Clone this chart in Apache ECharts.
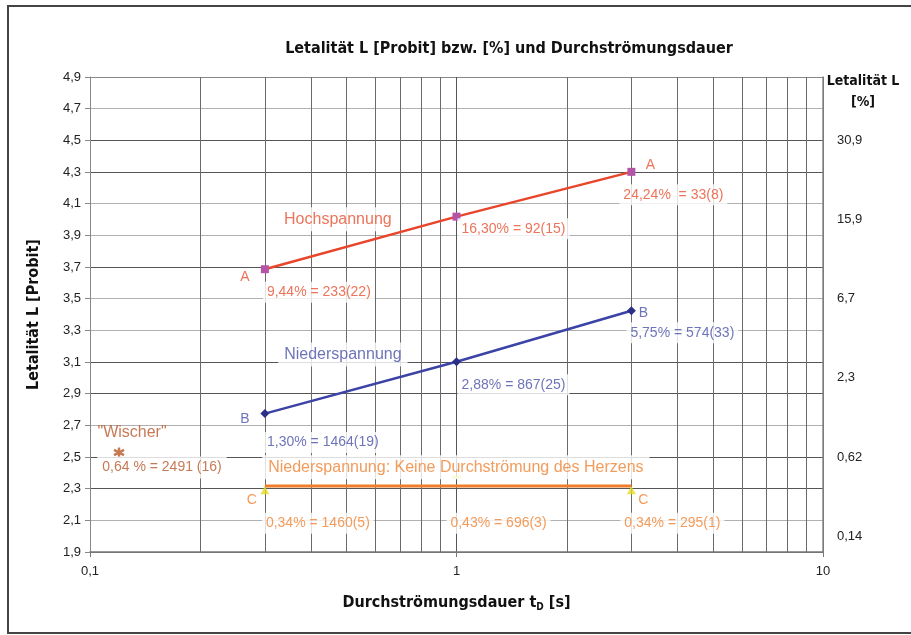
<!DOCTYPE html>
<html>
<head>
<meta charset="utf-8">
<script src="https://cdn.jsdelivr.net/npm/echarts@6/dist/echarts.min.js"></script>
<style>
  html, body { margin: 0; padding: 0; background: #fff; }
  #chart { width: 911px; height: 635px; }
</style>
</head>
<body>
<div id="chart"></div>
<script>
var chartDom = document.getElementById('chart');
var myChart = echarts.init(chartDom);

// Achsen
var yTicks = [1.9, 2.1, 2.3, 2.5, 2.7, 2.9, 3.1, 3.3, 3.5, 3.7, 3.9, 4.1, 4.3, 4.5, 4.7, 4.9];
var xMinorTicks = [0.2, 0.3, 0.4, 0.5, 0.6, 0.7, 0.8, 0.9, 2, 3, 4, 5, 6, 7, 8, 9];
var rightTickProbit = [2.0, 2.5, 3.0, 3.5, 4.0, 4.5];
var rightTickLabels = ['0,14', '0,62', '2,3', '6,7', '15,9', '30,9'];

// Durchströmungsdauer [s]
var duration = [0.3, 1, 3];

// Hochspannung (A)
var hochProbit = [3.686, 4.018, 4.301];
var hochLabels = ['9,44% = 233(22)', '16,30% = 92(15)', '24,24%  = 33(8)'];
var hochLetters = ['A', null, 'A'];

// Niederspannung (B)
var niederProbit = [2.774, 3.102, 3.424];
var niederLabels = ['1,30% = 1464(19)', '2,88% = 867(25)', '5,75% = 574(33)'];
var niederLetters = ['B', null, 'B'];

// Niederspannung ohne Herzdurchströmung (C)
var herzProbit = [2.29, 2.372, 2.29];
var herzLine = [2.317, 2.317, 2.317];
var herzLabels = ['0,34% = 1460(5)', '0,43% = 696(3)', '0,34% = 295(1)'];
var herzLetters = ['C', null, 'C'];

// "Wischer"
var wischerX = [0.12];
var wischerProbit = [2.51];
var wischerLabels = ['0,64 % = 2491 (16)'];
var wischerNames = ['"Wischer"'];

var narrowFont = "'Liberation Sans Narrow', 'DejaVu Sans Condensed', sans-serif";
var regularFont = "'Liberation Sans', Arial, sans-serif";

function comma(v) {
    return String(v).replace('.', ',');
}

function pairs(xs, ys) {
    return xs.map(function (x, i) { return [x, ys[i]]; });
}

// Beschriftungen an den Datenpunkten (unsichtbare Punkte, nur Label)
function labelSeries(xs, ys, texts, offsets, color, fontSize, pad) {
    var data = [];
    xs.forEach(function (x, i) {
        if (texts[i] == null) return;
        data.push({
            value: [x, ys[i]],
            label: { formatter: texts[i], offset: offsets[i] }
        });
    });
    return {
        type: 'scatter',
        silent: true,
        z: 6,
        symbolSize: 0,
        data: data,
        label: {
            show: true,
            position: 'inside',
            color: color,
            fontSize: fontSize,
            fontFamily: regularFont,
            backgroundColor: pad ? '#fff' : 'transparent',
            padding: pad || 0
        }
    };
}

var red = '#e9452b', redText = '#e8502f', purple = '#b455a8';
var blue = '#3b43a6', navy = '#2b2f86', blueText = '#4a51a8';
var orange = '#f07d2c', orangeText = '#f08232', yellow = '#e6dc1e';
var brown = '#b8582a';

var herzSymbols = ['triangle', 'rect', 'triangle'];
var herzSizes = [[9, 8], [9, 3], [9, 8]];

var valuePad = [4, 4, 3, 4];
var namePad = [5, 6, 3, 6];

var option = {
    animation: false,
    backgroundColor: '#fff',
    title: [{
        text: 'Letalität L [Probit] bzw. [%] und Durchströmungsdauer',
        left: 504,
        top: 36,
        textAlign: 'center',
        textStyle: { fontFamily: narrowFont, fontSize: 16, fontWeight: 'bold', color: '#111' }
    }, {
        text: 'Letalität L\n[%]',
        left: 858,
        top: 66,
        textAlign: 'center',
        textStyle: { fontFamily: narrowFont, fontSize: 14, fontWeight: 'bold', color: '#111', lineHeight: 21 }
    }],
    graphic: [{
        type: 'rect',
        shape: { x: 8, y: 6, width: 920, height: 627 },
        style: { fill: 'none', stroke: '#444', lineWidth: 2 },
        silent: true
    }],
    grid: { left: 90, right: 88, top: 77, bottom: 83 },
    xAxis: {
        type: 'log',
        logBase: 10,
        min: 0.1,
        max: 10,
        name: 'Durchströmungsdauer t{sub|D} [s]',
        nameLocation: 'middle',
        nameGap: 41,
        nameTextStyle: {
            fontFamily: narrowFont, fontSize: 16, fontWeight: 'bold', color: '#111',
            rich: { sub: { fontFamily: narrowFont, fontSize: 10, fontWeight: 'bold', color: '#111', verticalAlign: 'bottom', padding: [9, 0, 0, 0] } }
        },
        axisLine: { lineStyle: { color: '#777', width: 1.5 } },
        axisTick: { show: true, length: 5, lineStyle: { color: '#777' } },
        axisLabel: { formatter: comma, fontFamily: regularFont, fontSize: 13, color: '#222', margin: 13 },
        splitLine: { show: true, lineStyle: { color: '#555', width: 1 } }
    },
    yAxis: [{
        type: 'value',
        min: 1.9,
        max: 4.9,
        name: 'Letalität L [Probit]',
        nameLocation: 'middle',
        nameRotate: 90,
        nameGap: 48,
        nameTextStyle: { fontFamily: narrowFont, fontSize: 16, fontWeight: 'bold', color: '#111' },
        axisLine: { show: true, lineStyle: { color: '#888', width: 1 } },
        axisTick: { show: true, length: 5, customValues: yTicks, lineStyle: { color: '#888' } },
        axisLabel: { customValues: yTicks, formatter: function (v) { return comma(v.toFixed(1)); }, fontFamily: regularFont, fontSize: 13, color: '#222', margin: 9 },
        splitLine: {
            show: true,
            lineStyle: {
                width: 1,
                color: ['#777', '#b0b0b0', '#555', '#555', '#b0b0b0', '#555', '#555', '#b0b0b0',
                        '#b0b0b0', '#555', '#b0b0b0', '#b0b0b0', '#555', '#555', '#b0b0b0', '#888']
            }
        }
    }, {
        type: 'value',
        position: 'right',
        min: 1.9,
        max: 4.9,
        axisLine: { show: true, lineStyle: { color: '#888', width: 1.5 } },
        axisTick: { show: false },
        axisLabel: {
            customValues: rightTickProbit,
            formatter: function (v) {
                for (var i = 0; i < rightTickProbit.length; i++) {
                    if (Math.abs(rightTickProbit[i] - v) < 1e-6) return rightTickLabels[i];
                }
                return '';
            },
            fontFamily: regularFont, fontSize: 13, color: '#222', margin: 14
        },
        splitLine: { show: false }
    }],
    series: [
        {
            // Nebengitter der logarithmischen Achse (2..9 je Dekade)
            type: 'custom',
            z: 1,
            silent: true,
            data: xMinorTicks.map(function (v) { return [v, yTicks[0]]; }),
            encode: { x: 0, y: 1 },
            renderItem: function (params, api) {
                var cs = params.coordSys;
                var pt = api.coord([api.value(0), api.value(1)]);
                var x = Math.round(pt[0]) + 0.5;
                return {
                    type: 'line',
                    shape: { x1: x, y1: cs.y, x2: x, y2: cs.y + cs.height },
                    style: { stroke: '#6a6a6a', lineWidth: 1 }
                };
            }
        },
        {
            name: 'Hochspannung',
            type: 'line',
            z: 3,
            data: pairs(duration, hochProbit),
            lineStyle: { color: red, width: 2.5 },
            symbol: 'rect',
            symbolSize: 8,
            itemStyle: { color: purple },
            silent: true
        },
        {
            name: 'Niederspannung',
            type: 'line',
            z: 3,
            data: pairs(duration, niederProbit),
            lineStyle: { color: blue, width: 2.5 },
            symbol: 'diamond',
            symbolSize: 9,
            itemStyle: { color: navy },
            silent: true
        },
        {
            name: 'Niederspannung ohne Herz',
            type: 'line',
            z: 3,
            data: pairs(duration, herzLine),
            lineStyle: { color: orange, width: 3 },
            symbol: 'none',
            silent: true
        },
        {
            type: 'scatter',
            z: 4,
            data: pairs(duration, herzProbit).map(function (p, i) {
                return { value: p, symbol: herzSymbols[i], symbolSize: herzSizes[i] };
            }),
            itemStyle: { color: yellow },
            silent: true
        },
        {
            name: 'Wischer',
            type: 'scatter',
            z: 4,
            data: pairs(wischerX, wischerProbit),
            symbol: 'path://M0,-5L0,5M-4.5,-2.6L4.5,2.6M-4.5,2.6L4.5,-2.6',
            symbolSize: 10,
            symbolOffset: [0, -3],
            itemStyle: { color: 'none', borderColor: brown, borderWidth: 2.5 },
            silent: true
        },
        // Werte
        labelSeries(duration, hochProbit, hochLabels, [[54, 23], [57, 12], [42, 23]], redText, 14, valuePad),
        labelSeries(duration, niederProbit, niederLabels, [[58, 29], [57, 23], [51, 22]], blueText, 14, valuePad),
        labelSeries(duration, herzProbit, herzLabels, [[53, 33], [42, 46], [41, 33]], orangeText, 14, valuePad),
        labelSeries(wischerX, wischerProbit, wischerLabels, [[43, 12]], brown, 14, [5, 5, 3, 5]),
        // Buchstaben
        labelSeries(duration, hochProbit, hochLetters, [[-20, 8], null, [19, -7]], redText, 14, null),
        labelSeries(duration, niederProbit, niederLetters, [[-20, 6], null, [12, 2]], blueText, 14, null),
        labelSeries(duration, herzProbit, herzLetters, [[-13, 10], null, [12, 10]], orangeText, 14, null),
        // Kurvennamen
        labelSeries([duration[0]], [hochProbit[0]], ['Hochspannung'], [[73, -50]], redText, 16, namePad),
        labelSeries([duration[0]], [niederProbit[0]], ['Niederspannung'], [[78, -59]], blueText, 16, namePad),
        labelSeries([duration[0]], [herzProbit[0]], ['Niederspannung: Keine Durchströmung des Herzens'], [[191, -23]], orangeText, 16, namePad),
        labelSeries(wischerX, wischerProbit, wischerNames, [[13, -23]], brown, 16, null)
    ]
};

myChart.setOption(option);
</script>
</body>
</html>
